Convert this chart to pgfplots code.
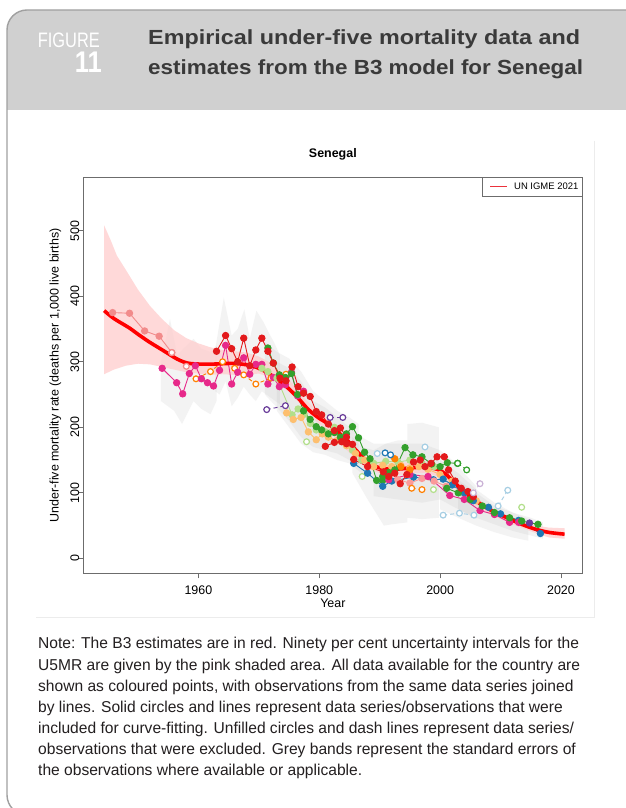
\documentclass[border=0pt]{standalone}
\usepackage{pgfplots}
\pgfplotsset{compat=1.18}
\usepackage{fontspec}
\setmainfont{Liberation Sans}
\usepackage{graphicx}
\definecolor{headgrey}{RGB}{208,208,208}
\definecolor{bordergrey}{RGB}{160,160,160}
\definecolor{titlegrey}{RGB}{58,58,58}
\definecolor{notecol}{RGB}{35,31,32}
\definecolor{pLB}{HTML}{A6CEE3}
\definecolor{pB}{HTML}{1F78B4}
\definecolor{pLG}{HTML}{B2DF8A}
\definecolor{pG}{HTML}{33A02C}
\definecolor{pPK}{HTML}{FB9A99}
\definecolor{pR}{HTML}{E31A1C}
\definecolor{pLO}{HTML}{FDBF6F}
\definecolor{pO}{HTML}{FF7F00}
\definecolor{pLP}{HTML}{CAB2D6}
\definecolor{pP}{HTML}{6A3D9A}
\definecolor{pMG}{HTML}{E7298A}
\definecolor{pSA}{RGB}{242,139,139}
\definecolor{bandpink}{RGB}{255,205,205}
\definecolor{legred}{RGB}{235,50,60}
\newlength\fitw
\newcommand\fitto[2]{\settowidth\fitw{#2}\pgfmathsetmacro\fitsc{#1/\fitw}\scalebox{\fitsc}[1]{#2}}
\newcommand\notesc{0.99}
\newcommand\nl[1]{\scalebox{\notesc}[1]{#1}}
\pgfplotsset{
 ser/.style={color=#1, line width=0.9bp, mark=*, mark size=3.2bp, mark options={solid, fill=#1, draw=#1}, forget plot},
 opn/.style={color=#1, line width=0.9bp, dash pattern=on 4bp off 3bp, mark=*, mark size=2.9bp, mark options={solid, fill=white, draw=#1, line width=1.2bp}, forget plot},
 gband/.style={fill=gray!60, fill opacity=0.15, draw=none, mark=none, forget plot},
}
\begin{document}
\begin{tikzpicture}[x=1bp,y=1bp]
\useasboundingbox (0,0) rectangle (626,808);
\fill[white] (0,0) rectangle (626,808);
\begin{scope}
\clip[rounded corners=20bp] (7,-7) rectangle (700,798);
\fill[headgrey] (0,698) rectangle (700,808);
\end{scope}
\draw[bordergrey, line width=1.4bp, rounded corners=20bp] (7,-7) rectangle (700,798);
% header texts
\node[anchor=base east, inner sep=0, text=white, font=\fontsize{21}{21}\selectfont] at (100,760.2) {\fitto{62bp}{FIGURE}};
\node[anchor=base east, inner sep=0, text=white, font=\fontsize{30}{30}\selectfont\bfseries] at (102,735.8) {\fitto{27bp}{11}};
\node[anchor=base west, inner sep=0, text=titlegrey, font=\fontsize{20.5}{20.5}\selectfont\bfseries] at (148,763) {\fitto{432bp}{Empirical under-five mortality data and}};
\node[anchor=base west, inner sep=0, text=titlegrey, font=\fontsize{20.5}{20.5}\selectfont\bfseries] at (148,733) {\fitto{435bp}{estimates from the B3 model for Senegal}};
% faint frame of chart image
\draw[gray!15, line width=0.8bp] (594,667) -- (594,191) -- (36,191);
% note
\begin{scope}[every node/.style={anchor=base west, inner sep=0, text=notecol, font=\fontsize{15.8}{16}\selectfont}]
\node at (38,159.0) {\nl{Note: The B3 estimates are in red. Ninety per cent uncertainty intervals for the}};
\node at (38,137.9) {\nl{U5MR are given by the pink shaded area. All data available for the country are}};
\node at (38,116.8) {\nl{shown as coloured points, with observations from the same data series joined}};
\node at (38,95.7) {\nl{by lines. Solid circles and lines represent data series/observations that were}};
\node at (38,74.6) {\nl{included for curve-fitting. Unfilled circles and dash lines represent data series/}};
\node at (38,53.5) {\nl{observations that were excluded. Grey bands represent the standard errors of}};
\node at (38,32.4) {\nl{the observations where available or applicable.}};
\end{scope}
\begin{axis}[
 at={(83bp,234.5bp)}, anchor=south west, width=499.7bp, height=396.2bp, scale only axis,
 xmin=1940.9, xmax=2023.6, ymin=-23, ymax=581.4,
 axis line style={draw=gray!85!black, line width=0.8bp},
 xtick={1960,1980,2000,2020}, ytick={0,100,200,300,400,500},
 xtick pos=bottom, ytick pos=left, tick align=outside,
 major tick length=5bp, tick style={draw=gray!85!black, line width=0.8bp},
 /pgf/number format/assume math mode=true,
 /pgf/number format/1000 sep={},
 xticklabel style={font=\fontsize{12.5}{13}\selectfont, inner sep=1bp, yshift=-6bp},
 yticklabel style={xshift=2.5bp, rotate=90, anchor=south, font=\fontsize{12.5}{13}\selectfont, inner sep=1bp},
 xlabel={Year}, xlabel style={at={(axis description cs:0.5,-0.0745)}, anchor=center, font=\fontsize{12.5}{13}\selectfont},
 ylabel={Under-five mortality rate (deaths per 1,000 live births)},
 ylabel style={at={(axis description cs:-0.055,0.5)}, anchor=center, font=\fontsize{12.5}{13}\selectfont},
 title={Senegal}, title style={at={(axis description cs:0.5,1.044)}, anchor=center, font=\fontsize{12.5}{13}\selectfont\bfseries},
]
% grey standard-error bands
\addplot[gband] coordinates {(1953.8,300)(1955.3,365)(1956.5,310)(1957.5,320)(1959.2,335)(1960.5,320)(1962,315)(1963,325)(1963,240)(1962,220)(1960.5,228)(1959.2,240)(1957.3,205)(1956,225)(1953.8,240)};
\addplot[gband] coordinates {(1962.8,320)(1964.2,398)(1965.5,340)(1966.5,350)(1967.6,380)(1968.5,335)(1969.6,378)(1970.8,360)(1971.6,345)(1972.5,330)(1973.5,310)(1973.5,235)(1972,245)(1970.5,255)(1969.5,240)(1968.5,250)(1967.5,262)(1966.5,245)(1965.5,232)(1964.5,270)(1963.5,250)(1962.8,255)};
\addplot[gband] coordinates {(1971,330)(1973,315)(1975,305)(1977,285)(1979,255)(1981,240)(1983,225)(1985,215)(1986.5,205)(1986.5,140)(1985,150)(1983,160)(1981,165)(1979,170)(1977,185)(1975,210)(1973,230)(1971,250)};
\addplot[gband] coordinates {(1973,300)(1975,290)(1977,270)(1979,240)(1981,230)(1983,215)(1985,200)(1987,185)(1989,175)(1989,120)(1987,130)(1985,145)(1983,150)(1981,158)(1979,162)(1977,175)(1975,200)(1973,225)};
\addplot[gband] coordinates {(1985.5,185)(1987,170)(1989,165)(1991,175)(1993,180)(1994.6,180)(1994.6,55)(1992,52)(1990.7,50)(1988,90)(1985.5,130)};
\addplot[gband] coordinates {(1994.6,205)(1997,207)(1999.8,200)(1999.8,62)(1997,60)(1994.6,62)};
\addplot[gband] coordinates {(1989,175)(1993,175)(1997,175)(2000,165)(2002,150)(2004,130)(2006,110)(2006,60)(2004,70)(2002,80)(2000,90)(1997,85)(1993,90)(1989,95)};
\addplot[gband] coordinates {(2000,150)(2003,130)(2006,105)(2009,85)(2012,70)(2014.6,60)(2014.6,27)(2012,32)(2009,40)(2006,50)(2003,62)(2000,75)};
\addplot[gband] coordinates {(2003,120)(2006,100)(2009,80)(2012,70)(2015,62)(2017,55)(2017,30)(2015,35)(2012,42)(2009,52)(2006,62)(2003,75)};
% pink uncertainty band
\addplot[fill=bandpink, fill opacity=0.75, draw=none, mark=none, forget plot] coordinates {
(1944.4,508)(1945.5,485)(1946.5,462)(1948,440)(1950,410)(1952,385)(1954,365)(1956,348)(1958,336)(1960,328)(1962,322)(1964,318)(1966,316)(1968,314)(1970,308)(1972,298)(1974,283)(1976,262)(1978,240)(1980,222)(1982,208)(1984,190)(1986,170)(1988,152)(1990,146)(1992,145)(1994,146)(1996,148)(1998,148)(2000,142)(2002,126)(2004,108)(2006,93)(2008,80)(2010,70)(2012,62)(2014,55)(2016,50)(2018,47)(2020.6,46)
(2020.6,30)(2018,32)(2016,38)(2014,45)(2012,52)(2010,60)(2008,68)(2006,80)(2004,94)(2002,110)(2000,124)(1998,130)(1996,130)(1994,128)(1992,127)(1990,130)(1988,137)(1986,152)(1984,170)(1982,190)(1980,205)(1978,222)(1976,245)(1974,262)(1972,276)(1970,282)(1968,280)(1966,280)(1964,281)(1962,280)(1960,282)(1958,284)(1956,288)(1954,292)(1952,296)(1950,297)(1948,294)(1946,288)(1944.4,281)};
% data series
\addplot[ser=pSA] coordinates {(1945.8,375)(1948.6,374)(1951.1,347)(1953.5,339)(1955.6,314)};
\addplot[opn=pSA] coordinates {(1955.6,314)(1958.0,293)};
\addplot[opn=pO] coordinates {(1959.6,274)(1962,285)(1964,300)(1966,290)(1967.5,280)(1969.5,266)(1972,275)(1974.5,281)};
\addplot[ser=pMG] coordinates {(1954.0,290)(1956.4,268)(1957.4,251)(1958.5,282)(1959.5,294)(1960.5,274)(1961.5,268)(1962.5,263)(1963.5,287)(1964.5,325)(1965.5,266)(1966.5,284)(1967.5,306)(1968.5,281)(1969.5,296)(1970.5,296)(1971.5,266)(1972.4,276)(1973.4,262)(1974.4,265)(1975.4,284)(1976.4,248)(1977.4,255)};
\addplot[ser=pLG] coordinates {(1970.5,290)(1971.5,285)(1973,275)(1975.5,219)(1976.5,228)(1977.5,220)(1978.5,206)(1979.5,196)(1981,193)(1982.5,200)(1984,185)(1985.5,165)(1987,150)(1989,145)(1991,148)(1993,147)(1995,150)(1997,145)(1999,140)};
\addplot[ser=pLO] coordinates {(1974.6,222)(1975.7,212)(1977,215)(1978.2,193)(1979.5,181)(1980.5,190)(1981.5,185)(1983,180)(1984.5,172)(1986,160)(1987.5,150)(1989,140)(1990.5,142)(1992,140)(1993.5,142)(1995,138)(1996.5,140)(1998,136)(2000,128)(2002,118)(2004,100)(2006,88)};
\addplot[ser=pG] coordinates {(1971.5,321)(1972.4,298)(1973.4,280)(1974.4,276)(1975.4,282)(1976.4,250)(1977.4,225)(1978.5,212)(1979.5,201)(1980.4,196)(1981.5,190)(1982.5,192)(1983.5,185)(1984.5,190)(1985.5,201)(1986.5,184)(1987.5,162)(1988.4,152)(1989.5,119)(1990.5,119)};
\addplot[ser=pR] coordinates {(1963.0,316)(1964.5,340)(1965.5,320)(1966.5,300)(1967.5,336)(1968.5,294)(1969.5,318)(1970.5,336)(1971.5,316)(1972.4,298)(1973.5,275)(1974.5,271)(1975.5,292)(1976.5,262)(1977.4,252)(1978.5,247)(1979.5,224)(1980.4,219)(1981.5,205)(1982.5,195)(1983.5,199)(1984.5,185)(1985.5,174)};
\addplot[ser=pR] coordinates {(1981.0,171)(1982.5,177)(1983.7,178)(1984.5,175)};
\addplot[opn=pP] coordinates {(1971.3,227)(1974.4,233)};
\addplot[opn=pP] coordinates {(1981.8,215)(1983.9,215)};
\addplot[opn=pLG] coordinates {(1977.9,178)};
\addplot[opn=pLG] coordinates {(1987.1,125)};
\addplot[ser=pB] coordinates {(1985.7,145)(1988,130)(1990.5,110)(1992,118)(1995.6,124)(1998.9,120)(2000.5,121)(2002,112)(2004,100)(2005.5,88)(2008,78)(2010,68)(2013,58)(2016.6,38)};
\addplot[ser=pPK] coordinates {(1993,120)(1995,115)(1997,122)(1999,118)(2001,110)};
\addplot[ser=pMG] coordinates {(1991.5,120)(1995,128)(1998,125)(2001.6,96)(2004,90)(2006.6,73)(2009,67)(2011.5,55)(2013,55)};
\addplot[ser=pO] coordinates {(1992.5,152)(1993.5,140)(1995,135)};
\addplot[opn=pO] coordinates {(1995.3,107)(1997,105)};
\addplot[opn=pLG] coordinates {(1998.9,105)};
\addplot[ser=pG] coordinates {(1990.5,125)(1991.5,131)(1992.5,135)(1994.2,169)(1995.5,158)(1997,155)(1998.6,144)(2000,140)(2001.2,146)(2002.9,145)};
\addplot[opn=pG] coordinates {(2002.9,145)(2004.4,135)};
\addplot[ser=pG] coordinates {(2001.1,107)(2003,100)(2005,90)(2007,80)(2009,70)(2011.5,62)(2013.5,57)(2016.2,52)};
\addplot[ser=pR] coordinates {(1985.7,151)(1988,140)(1990.6,132)(1991.5,125)(1992.5,130)(1993.4,114)(1994.5,128)(1995.6,147)(1996.7,150)(1997.5,140)(1998.5,145)(1999.5,155)(2000.7,155)(2001.4,135)(2002.5,118)(2003.5,107)(2004.6,102)(2005.5,94)};
\addplot[opn=pLB] coordinates {(1989.6,160)};
\addplot[opn=pB] coordinates {(1990.9,161)(1991.8,158)};
\addplot[opn=pLB] coordinates {(1997.5,170)};
\addplot[opn=pLB] coordinates {(2000.5,66)(2003.2,69)(2005.6,66)};
\addplot[opn=pLB] coordinates {(2009.6,80)(2011.2,104)};
\addplot[opn=pLP] coordinates {(2005.5,100)(2006.6,114)};
\addplot[opn=pLG] coordinates {(2013.5,78)};
\addplot[ser=pP] coordinates {(2014.8,54)};
% B3 estimate
\addplot[color=red, line width=3.6bp, smooth, mark=none, forget plot] coordinates {
(1944.4,378)(1946,366)(1948.5,352)(1950,342)(1951.9,330)(1954.2,317)(1956.5,304)(1958.2,298)(1960,296.5)(1962.7,296.5)(1965.6,297.5)(1967.9,295.5)(1969.6,291.5)(1971.3,284)(1973,273.6)(1974.7,261)(1976.4,245.7)(1978.1,228)(1979.8,215)(1981.5,205)(1983.2,192)(1984.9,177)(1986.7,159)(1988.4,144)(1990.1,138)(1991.8,136)(1994.1,137)(1996.4,139)(1998.1,139)(1999.8,135)(2000.9,128.7)(2002.1,118.5)(2003.8,103)(2005.5,90.5)(2007.2,80)(2008.9,71)(2011.2,61.5)(2013.4,52.4)(2015.7,44.8)(2018,39.7)(2020.6,37)};
\end{axis}
% legend
\draw[gray!85!black, line width=0.8bp, fill=white] (482,630.7) rectangle (582.7,612);
\draw[legred, line width=1.5bp] (490,621.3) -- (507,621.3);
\node[anchor=west, inner sep=0, font=\fontsize{9.5}{10}\selectfont] at (514,621.3) {UN IGME 2021};
\end{tikzpicture}
\end{document}
